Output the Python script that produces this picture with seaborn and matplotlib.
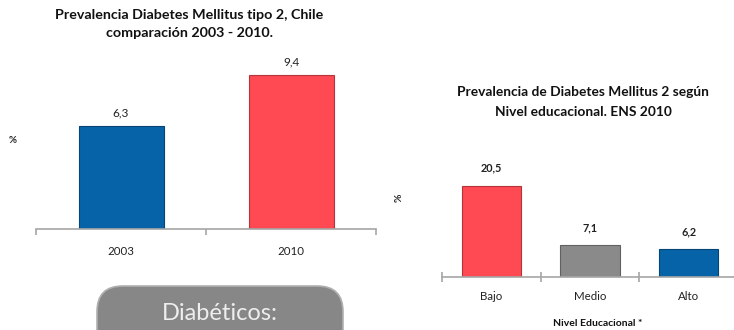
import matplotlib
matplotlib.use("Agg")
import matplotlib.pyplot as plt
import seaborn as sns
import pandas as pd
from matplotlib.patches import FancyBboxPatch
from matplotlib.ticker import FixedLocator
from matplotlib.colors import to_rgb

# Prevalence of type 2 diabetes by survey year
years = ["2003", "2010"]
prev_year = [6.3, 9.4]
year_colors = ["#0763A8", "#FF4A53"]

# Prevalence by educational level, ENS 2010
niveles = ["Bajo", "Medio", "Alto"]
prev_nivel = [20.5, 7.1, 6.2]
nivel_colors = ["#FF4A53", "#8A8A8A", "#0763A8"]

sns.set_theme(style="white")
plt.rcParams["font.family"] = ["Lato", "DejaVu Sans"]

W, H = 734, 330
fig = plt.figure(figsize=(W / 100, H / 100), dpi=100)


def px_axes(left, top, right, bottom):
    return fig.add_axes([left / W, 1 - bottom / H, (right - left) / W, (bottom - top) / H])


def fmt(v):
    return f"{v:.1f}".replace(".", ",")


def darken(c, f=0.7):
    r, g, b = to_rgb(c)
    return (r * f, g * f, b * f)


def style_axis(ax, n, tick_dir, tick_len):
    for s in ["left", "right", "top"]:
        ax.spines[s].set_visible(False)
    ax.spines["bottom"].set_color("#A6A6A6")
    ax.spines["bottom"].set_linewidth(1.2)
    ax.set_yticks([])
    ax.set_xlim(-0.5, n - 0.5)
    ax.xaxis.set_minor_locator(FixedLocator([i - 0.5 for i in range(n + 1)]))
    ax.tick_params(axis="x", which="major", length=0, pad=12, labelsize=8.3, colors="#222222")
    ax.tick_params(axis="x", which="minor", length=tick_len, width=1.2,
                   color="#A6A6A6", direction=tick_dir, bottom=True)
    ax.set_xlabel("")
    ax.set_ylabel("")


def edge_bars(ax, colors):
    for patch, c in zip(ax.patches, colors):
        patch.set_edgecolor(darken(c))
        patch.set_linewidth(0.8)


# Left panel: 2003 vs 2010
ax1 = px_axes(36, 32, 376, 229)
df1 = pd.DataFrame({"anio": years, "prev": prev_year})
sns.barplot(data=df1, x="anio", y="prev", hue="anio", palette=year_colors,
            width=0.5, legend=False, ax=ax1, saturation=1)
edge_bars(ax1, year_colors)
ax1.set_ylim(0, 12)
style_axis(ax1, len(years), "out", 4)
for i, v in enumerate(prev_year):
    ax1.annotate(fmt(v), (i, v), xytext=(0, 5), textcoords="offset points",
                 ha="center", va="bottom", fontsize=8.5, color="#222222")

fig.text(189 / W, 1 - 15 / H, "Prevalencia Diabetes Mellitus tipo 2, Chile",
         ha="center", va="center", fontsize=10.3, fontweight="bold", color="#111111")
fig.text(189 / W, 1 - 33 / H, "comparación 2003 - 2010.",
         ha="center", va="center", fontsize=10.3, fontweight="bold", color="#111111")
fig.text(13 / W, 1 - 140 / H, "%", ha="center", va="center", fontsize=7,
         fontweight="bold", color="#222222")

# Right panel: by educational level
ax2 = px_axes(442, 166, 738, 277)
df2 = pd.DataFrame({"nivel": niveles, "prev": prev_nivel})
sns.barplot(data=df2, x="nivel", y="prev", hue="nivel", palette=nivel_colors,
            width=0.6, legend=False, ax=ax2, saturation=1)
edge_bars(ax2, nivel_colors)
ax2.set_ylim(0, 25)
style_axis(ax2, len(niveles), "inout", 7)
ax2.tick_params(axis="x", which="major", pad=10)
for i, v in enumerate(prev_nivel):
    ax2.annotate(fmt(v), (i, v), xytext=(0, 9), textcoords="offset points",
                 ha="center", va="bottom", fontsize=7.8, fontweight="bold", color="#222222")

fig.text(583 / W, 1 - 92 / H, "Prevalencia de Diabetes Mellitus 2 según",
         ha="center", va="center", fontsize=9.9, fontweight="bold", color="#111111")
fig.text(583 / W, 1 - 112 / H, "Nivel educacional. ENS 2010",
         ha="center", va="center", fontsize=9.9, fontweight="bold", color="#111111")
fig.text(399 / W, 1 - 198 / H, "%", ha="center", va="center", fontsize=7.5,
         fontweight="bold", rotation=90, color="#222222")
fig.text(598 / W, 1 - 323 / H, "Nivel Educacional *", ha="center", va="center",
         fontsize=7.5, fontweight="bold", color="#111111")

# Rounded caption box at the bottom left
box = FancyBboxPatch((97 / W, -30 / H), 246 / W, (330 - 286 + 30) / H,
                     boxstyle="round,pad=0,rounding_size=0.035",
                     transform=fig.transFigure, facecolor="#878787",
                     edgecolor="#B0B0B0", linewidth=1.2, mutation_aspect=W / H,
                     zorder=0)
fig.patches.append(box)
fig.text(220 / W, 1 - 313 / H, "Diabéticos:", ha="center", va="center",
         fontsize=17, color="#EEEEEE")

fig.savefig("out.png", dpi=100)
